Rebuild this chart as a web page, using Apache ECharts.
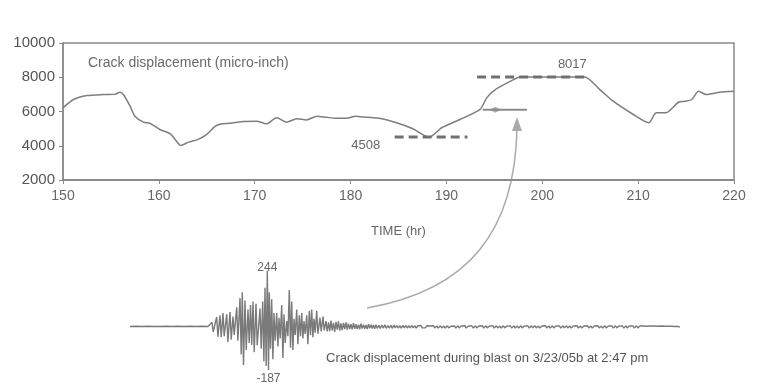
<!DOCTYPE html>
<html lang="en">
<head>
<meta charset="utf-8">
<title>Crack displacement</title>
<script src="https://cdn.jsdelivr.net/npm/echarts@6/dist/echarts.min.js"></script>
<style>
  html, body { margin: 0; padding: 0; background: #fff; }
  #main { width: 776px; height: 387px; }
</style>
</head>
<body>
<div id="main"></div>
<script type="text/javascript">
// long-term crack record (hr, micro-inch)
var timeHr = [150, 151.1, 152.5, 154.2, 155.4, 155.95, 156.3, 157.0, 157.5, 158.4, 159.1, 160.1, 161.2, 161.7, 162.3,
    163.1, 164.1, 165.0, 165.9, 166.6, 167.8, 168.8, 170.2, 171.2, 172.3, 173.3, 174.4, 175.4, 176.5, 177.5,
    178.5, 179.6, 180.5, 181.7, 183.0, 184.8, 186.5, 188.2, 189.5, 191.4, 193.5, 194.2, 195.1, 197.0, 197.7,
    204.4, 206.0, 207.4, 209.5, 211.1, 211.9, 212.9, 214.2, 214.9, 215.6, 216.3, 217.1, 218.5, 220];
var crack = [6215, 6700, 6930, 6990, 7000, 7125, 6990, 6310, 5727, 5377, 5300, 4950, 4700, 4370, 4020,
    4213, 4370, 4660, 5145, 5280, 5340, 5415, 5437, 5280, 5630, 5375, 5575, 5510, 5727, 5660,
    5600, 5600, 5727, 5660, 5600, 5340, 4990, 4508, 5050, 5530, 6120, 6795, 7280, 7860, 8017,
    8017, 7280, 6600, 5825, 5340, 5924, 5924, 6540, 6600, 6700, 7180, 6990, 7125, 7180];

var lowMark = [[184.6, 4508], [192.2, 4508]];
var highMark = [[193.2, 8017], [204.7, 8017]];
var blastTrace = [[193.8, 6100], [198.4, 6100]];
var blastDot = [[195.1, 6100]];

// blast record: sample position, upper and lower swing of each cycle
var waveT = [0, 6, 12, 18, 24, 30, 36, 42, 48, 54, 60, 66, 72, 78,
    82, 86.7, 90, 93, 96.7, 100, 103, 106.7, 110, 112.3, 115, 118, 120.5, 123, 126, 130, 132.7, 135, 137.3, 139.3,
    141.7, 144, 146.7, 149, 151.7, 154, 156.7, 159.3, 161.7, 164, 166.7, 169.3, 171.7, 174, 176.7, 179.3, 181.7,
    184, 186.7, 190, 193,
    196, 198.5, 201, 203.5, 206, 208.5, 211, 213.5, 216, 218.5, 221, 223.5, 226, 228.5, 231, 233.5, 236, 238.5,
    241, 243.5, 246, 249, 252, 255, 258, 261, 264, 267, 270, 273, 276, 279, 282, 285, 288, 291, 294, 297, 300,
    303.5, 307, 310.5, 314, 317.5, 321, 324.5, 328, 331.5, 335, 338.5, 342, 345.5, 349, 352.5, 356, 359.5, 363,
    366.5, 370, 373.5, 377, 380.5, 384, 387.5, 391, 394.5, 398, 401.5, 405, 408.5, 412, 415.5, 419, 422.5, 426,
    429.5, 433, 436.5, 440, 443.5, 447, 450.5, 454, 457.5, 461, 464.5, 468, 471.5, 475, 478.5, 482, 485.5, 489,
    492.5, 496, 499.5, 503, 506.5, 510, 513.5, 517, 520.5, 524, 527.5, 531, 534.5, 538, 541.5, 545, 548.5];
var waveHi = [2, 3, 2, 3, 2, 2, 3, 2, 3, 2, 3, 2, 3, 2,
    20, 43, 50, 60, 55, 65, 45, 85, 125, 150, 115, 75, 95, 110, 100, 80, 110, 170, 244, 150,
    120, 60, 60, 40, 95, 55, 25, 160, 110, 35, 75, 50, 60, 25, 50, 70, 75,
    35, 70, 40, 45,
    25, 20, 28, 18, 22, 24, 15, 18, 20, 14, 12, 16, 12, 10, 14, 10, 8, 12,
    9, 8, 10, 7, 8, 9, 6, 7, 8, 6, 5, 7, 6, 5, 6, 5, 5, 6, 4, 5, 4,
    5, 4, 5, 4, 5, 3, 4, 5, 4, 5, 4, 4, 5, 4, 5, 5, 4, 4,
    5, 4, 5, 4, 4, 5, 4, 5, 4, 4, 5, 5, 4, 4, 5, 4, 5, 4,
    4, 5, 5, 4, 4, 5, 4, 4, 5, 4, 4, 5, 4, 5, 4, 4, 5, 4,
    4, 5, 4, 4, 5, 4, 4, 3, 4, 4, 3, 4, 3, 3, 3, 2, 2];
var waveLo = [-2, -2, -3, -2, -2, -3, -2, -2, -3, -2, -2, -3, -2, -2,
    -22, -43, -45, -40, -65, -55, -35, -60, -120, -165, -100, -70, -78, -110, -80, -95, -150, -170, -187, -95,
    -140, -60, -85, -50, -135, -70, -40, -90, -100, -35, -75, -40, -50, -30, -75, -35, -45,
    -25, -30, -20, -15,
    -20, -18, -15, -22, -12, -16, -14, -10, -12, -9, -11, -8, -9, -10, -7, -8, -9, -6,
    -7, -8, -6, -7, -5, -6, -5, -6, -4, -5, -5, -4, -5, -4, -4, -5, -3, -4, -4, -3, -4,
    -4, -5, -4, -5, -4, -4, -5, -4, -4, -5, -4, -5, -4, -4, -5, -4, -4, -5,
    -4, -5, -4, -4, -5, -4, -5, -4, -4, -5, -4, -4, -5, -4, -4, -5, -4, -4,
    -5, -4, -4, -5, -4, -4, -5, -4, -4, -5, -4, -4, -5, -4, -4, -5, -4, -4,
    -5, -4, -4, -5, -4, -4, -3, -4, -4, -3, -4, -3, -3, -3, -2, -2, -2];

var chart = echarts.init(document.getElementById('main'));

var crackData = timeHr.map(function (t, i) { return [t, crack[i]]; });
var waveData = [];
for (var i = 0; i < waveT.length; i++) {
    waveData.push([waveT[i], waveHi[i]]);
    waveData.push([waveT[i] + 1.2, waveLo[i]]);
}

var textFont = 'Liberation Sans';

var option = {
    backgroundColor: '#fff',
    animation: false,
    title: {
        text: 'Crack displacement (micro-inch)',
        left: 83, top: 51,
        textStyle: { fontFamily: textFont, fontSize: 14, fontWeight: 'normal', color: '#6a6a6a' }
    },
    grid: [
        { left: 63, top: 43, width: 671, height: 137, show: true, borderColor: '#8a8a8a', borderWidth: 1.5 },
        { left: 130, top: 267, width: 550, height: 106 }
    ],
    xAxis: [{
        type: 'value', gridIndex: 0, min: 150, max: 220, interval: 10,
        axisLine: { show: true, lineStyle: { color: '#8a8a8a', width: 2 } },
        axisTick: { show: true, length: 4, lineStyle: { color: '#8a8a8a' } },
        axisLabel: { fontFamily: textFont, fontSize: 14, color: '#666', margin: 9 },
        splitLine: { show: false },
        name: 'TIME (hr)', nameLocation: 'middle', nameGap: 45,
        nameTextStyle: { fontFamily: textFont, fontSize: 13, color: '#666' }
    }, {
        type: 'value', gridIndex: 1, min: 0, max: 550, show: false
    }],
    yAxis: [{
        type: 'value', gridIndex: 0, min: 2000, max: 10000, interval: 2000,
        axisLine: { show: true, lineStyle: { color: '#8a8a8a', width: 1.5 } },
        axisTick: { show: true, length: 4, lineStyle: { color: '#8a8a8a' } },
        axisLabel: { fontFamily: textFont, fontSize: 15, color: '#555', margin: 8,
            formatter: function (v) { return String(v); } },
        splitLine: { show: false }
    }, {
        type: 'value', gridIndex: 1, min: -200, max: 260, show: false
    }],
    series: [{
        name: 'crack', type: 'line', data: crackData, smooth: 0.25,
        symbol: 'none', lineStyle: { color: '#7e7e7e', width: 1.5 }
    }, {
        name: 'low', type: 'line', data: lowMark, symbol: 'none',
        lineStyle: { color: '#707070', width: 3, type: [9, 5] },
        markPoint: {
            symbol: 'rect', symbolSize: 1, itemStyle: { color: 'rgba(0,0,0,0)' },
            label: { show: true, position: 'left', distance: 14, offset: [0, 8],
                fontFamily: textFont, fontSize: 13, color: '#666',
                formatter: function (p) { return p.value; } },
            data: [{ coord: lowMark[0], value: lowMark[0][1] }]
        }
    }, {
        name: 'high', type: 'line', data: highMark, symbol: 'none',
        lineStyle: { color: '#707070', width: 3, type: [9, 5] },
        markPoint: {
            symbol: 'rect', symbolSize: 1, itemStyle: { color: 'rgba(0,0,0,0)' },
            label: { show: true, position: 'top', distance: 6, offset: [-15, 0],
                fontFamily: textFont, fontSize: 13, color: '#666',
                formatter: function (p) { return p.value; } },
            data: [{ coord: highMark[1], value: highMark[1][1] }]
        }
    }, {
        name: 'blastMini', type: 'line', data: blastTrace, symbol: 'none',
        lineStyle: { color: '#8a8a8a', width: 2 }
    }, {
        name: 'blastDot', type: 'scatter', data: blastDot, symbol: 'diamond',
        symbolSize: [12, 6], itemStyle: { color: '#999' }
    }, {
        name: 'blast', type: 'line', xAxisIndex: 1, yAxisIndex: 1, data: waveData,
        symbol: 'none', lineStyle: { color: '#7a7a7a', width: 1.4 },
        markPoint: {
            symbol: 'rect', symbolSize: 1, itemStyle: { color: 'rgba(0,0,0,0)' },
            label: { show: true, fontFamily: textFont, fontSize: 12, color: '#666',
                formatter: function (p) { return p.value; } },
            data: [
                { type: 'max', label: { position: 'top', distance: 0, offset: [0, 4] } },
                { type: 'min', label: { position: 'bottom', distance: 2 } }
            ]
        }
    }],
    graphic: [{
        type: 'bezierCurve',
        shape: { x1: 367, y1: 308, cpx1: 470, cpy1: 290, cpx2: 515, cpy2: 230, x2: 517, y2: 128 },
        style: { stroke: '#aaa', lineWidth: 1.5, fill: null }
    }, {
        type: 'polygon',
        shape: { points: [[517, 117], [512, 131], [522, 131]] },
        style: { fill: '#aaa' }
    }, {
        type: 'text', left: 326, top: 352,
        style: { text: 'Crack displacement during blast on 3/23/05b at 2:47 pm',
            font: '13px "Liberation Sans"', fill: '#555' }
    }]
};

chart.setOption(option);
</script>
</body>
</html>
